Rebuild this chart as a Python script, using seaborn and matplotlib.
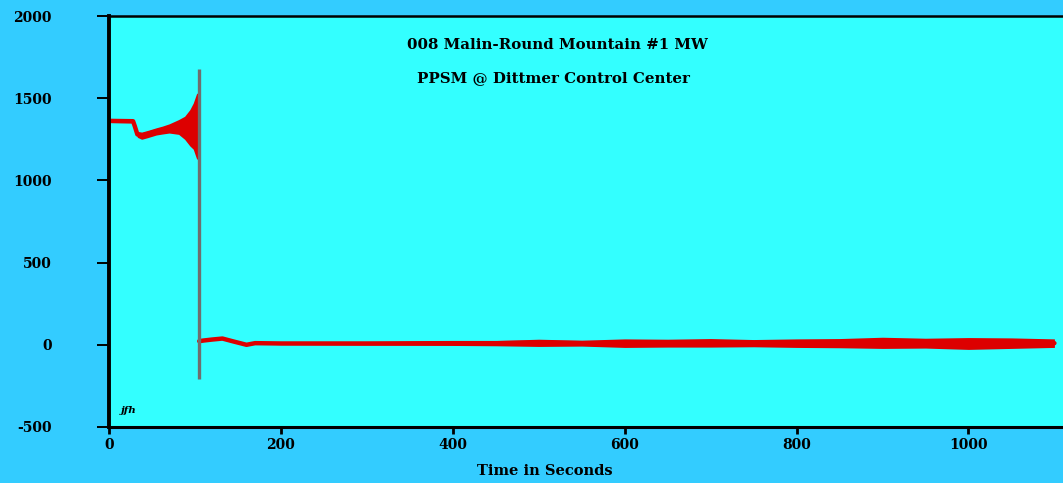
import pandas as pd
import seaborn as sns
import matplotlib.pyplot as plt

# MW trace: time (s), band centre (MW), band half width (MW)
pre_time = [0, 28, 30, 33, 38, 45, 55, 62, 70, 81, 88, 94, 98, 102, 104]
pre_mw = [1362, 1360, 1330, 1280, 1272, 1282, 1298, 1306, 1316, 1325, 1320, 1320, 1330, 1330, 1330]
pre_spread = [10, 10, 12, 18, 22, 22, 22, 24, 28, 45, 70, 110, 140, 200, 200]

post_time = [105, 110, 120, 132, 145, 160, 170, 200, 300, 400, 450, 500, 550, 600,
             650, 700, 750, 800, 850, 900, 950, 1000, 1050, 1100]
post_mw = [22, 26, 32, 38, 20, 0, 10, 8, 8, 10, 10, 12, 10, 10, 10, 12, 10, 10, 10, 12, 10, 8, 10, 10]
post_spread = [4, 4, 4, 4, 4, 4, 5, 7, 10, 14, 16, 22, 18, 26, 24, 26, 22, 26, 28, 34, 30, 36, 32, 26]

# switching event marker
event_time = 104.5
event_range = [-208, 1680]

x_ticks = [0, 200, 400, 600, 800, 1000]
y_ticks = [-500, 0, 500, 1000, 1500, 2000]

title1 = "008 Malin-Round Mountain #1 MW"
title2 = "PPSM @ Dittmer Control Center"

sns.set_style("ticks")
plt.rcParams["font.family"] = ["DejaVu Serif"]
plt.rcParams["font.weight"] = "bold"
plt.rcParams["text.color"] = "black"
plt.rcParams["xtick.color"] = "black"
plt.rcParams["ytick.color"] = "black"
plt.rcParams["axes.labelcolor"] = "black"

pre = pd.DataFrame({"t": pre_time, "mw": pre_mw, "sp": pre_spread})
post = pd.DataFrame({"t": post_time, "mw": post_mw, "sp": post_spread})

fig = plt.figure(figsize=(10.63, 4.83), dpi=100, facecolor="#33CCFF")
ax = fig.add_axes([109 / 1063, 56 / 483, 954 / 1063, 411 / 483])
ax.set_facecolor("#33FFFF")

red = "#DD0000"
for df in (pre, post):
    ax.fill_between(df["t"], df["mw"] - df["sp"], df["mw"] + df["sp"], color=red, lw=0)
    sns.lineplot(data=df, x="t", y="mw", ax=ax, color=red, linewidth=3.2)

ax.vlines(event_time, event_range[0], event_range[1], color="#6E6E6E", linewidth=2.4, zorder=5)

ax.set_xlim(0, 1110)
ax.set_ylim(-500, 2000)
ax.set_xticks(x_ticks)
ax.set_yticks(y_ticks)
ax.set_xticklabels([str(v) for v in x_ticks], fontsize=10, fontweight="bold")
ax.set_yticklabels([str(v) for v in y_ticks], fontsize=10, fontweight="bold")
ax.tick_params(axis="y", direction="out", length=9, width=1.4, pad=32)
ax.tick_params(axis="x", direction="out", length=5, width=2, pad=3)

ax.set_xlabel("Time in Seconds", fontsize=10.5, fontweight="bold")
ax.set_ylabel("")
ax.xaxis.set_label_coords(0.457, -0.09)

ax.spines["left"].set_linewidth(2.8)
ax.spines["bottom"].set_linewidth(2.2)
ax.spines["top"].set_linewidth(1.8)
ax.spines["right"].set_visible(False)
for s in ax.spines.values():
    s.set_color("black")

ax.text(0.47, 0.929, title1, transform=ax.transAxes, ha="center", va="center",
        fontsize=10.8, fontweight="bold")
ax.text(0.466, 0.849, title2, transform=ax.transAxes, ha="center", va="center",
        fontsize=10.8, fontweight="bold")
ax.text(0.012, 0.039, "jfh", transform=ax.transAxes, ha="left", va="center",
        fontsize=7.5, fontweight="bold", fontstyle="italic")

fig.savefig("out.png", dpi=100, facecolor=fig.get_facecolor())
